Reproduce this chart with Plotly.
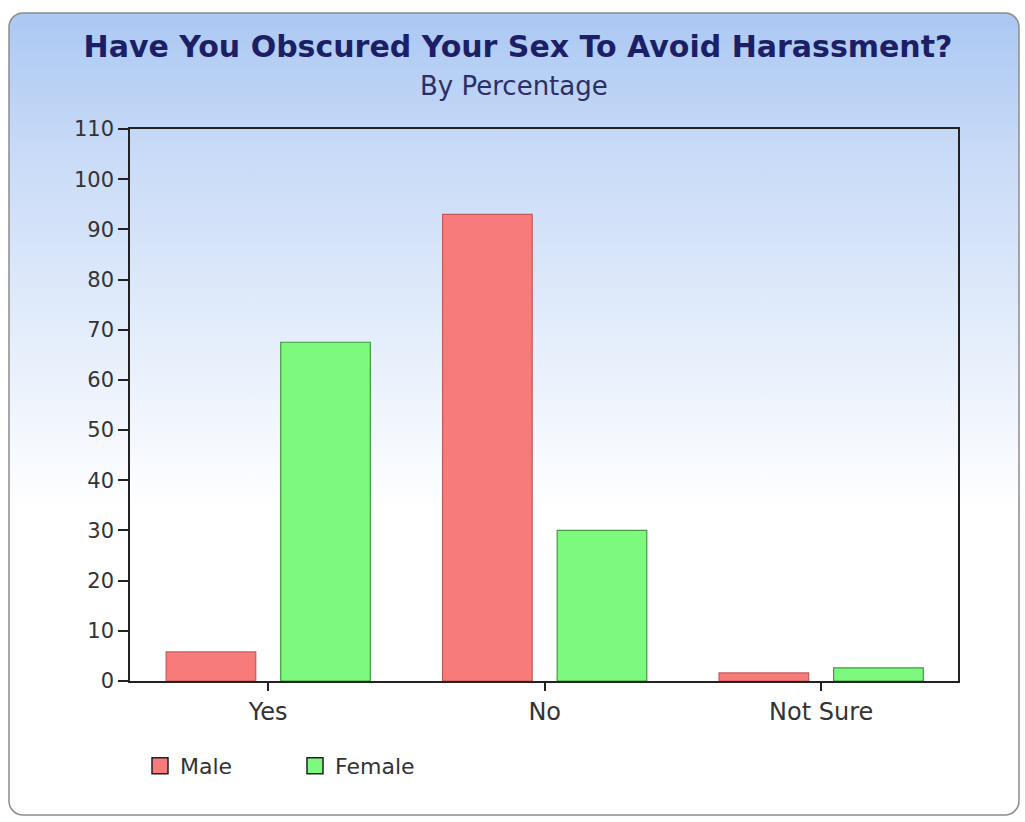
import plotly.graph_objects as go
import urllib.parse

categories = ["Yes", "No", "Not Sure"]
male = [5.8, 93.0, 1.6]
female = [67.5, 30.0, 2.6]
y_ticks = list(range(0, 111, 10))

W, H = 1025, 822
L, R, T, B = 130, 67, 129, 141
pw, ph = W - L - R, H - T - B
FONT = "DejaVu Sans, Verdana, sans-serif"

def px_to_paper_x(x):
    return (x - L) / pw

def px_to_paper_y(y):
    return 1 + (T - y) / ph

# background card with gradient
cx0, cy0, cx1, cy1 = 8, 12, 1020, 816
cw, chh = cx1 - cx0, cy1 - cy0
svg = f'''<svg xmlns="http://www.w3.org/2000/svg" width="{cw}" height="{chh}" viewBox="0 0 {cw} {chh}">
<defs><linearGradient id="g" x1="0" y1="0" x2="0" y2="1">
<stop offset="0" stop-color="#abc8f3"/>
<stop offset="0.18" stop-color="#c9dbf7"/>
<stop offset="0.45" stop-color="#eaf1fc"/>
<stop offset="0.62" stop-color="#ffffff"/>
<stop offset="1" stop-color="#ffffff"/>
</linearGradient></defs>
<rect x="1" y="1" width="{cw-2}" height="{chh-2}" rx="14" ry="14" fill="url(#g)" stroke="#8c8c8c" stroke-width="1.5"/>
</svg>'''
src = "data:image/svg+xml;charset=utf-8," + urllib.parse.quote(svg)

male_color = "#f77b7b"
female_color = "#7dfa7d"

fig = go.Figure()
fig.add_trace(go.Bar(
    x=categories, y=male, name="Male", showlegend=False,
    marker=dict(color=male_color, line=dict(color="#c65a5a", width=1.2)),
))
fig.add_trace(go.Bar(
    x=categories, y=female, name="Female", showlegend=False,
    marker=dict(color=female_color, line=dict(color="#3f9a3f", width=1.2)),
))
# legend entries (square swatches with dark outline)
for nm, col in [("Male", male_color), ("Female", female_color)]:
    fig.add_trace(go.Scatter(
        x=[None], y=[None], mode="markers", name=nm,
        marker=dict(symbol="square", size=18, color=col,
                    line=dict(color="#222222", width=1.5)),
    ))

fig.update_layout(
    width=W, height=H,
    margin=dict(l=L, r=R, t=T, b=B),
    paper_bgcolor="white",
    plot_bgcolor="rgba(0,0,0,0)",
    barmode="group",
    bargap=0.171,
    bargroupgap=0.218,
    font=dict(family=FONT, color="#333333"),
    title=dict(
        text="<b>Have You Obscured Your Sex To Avoid Harassment?</b>",
        x=518 / W, xref="container", xanchor="center",
        y=1 - 46 / H, yref="container", yanchor="middle",
        font=dict(size=30, color="#1c1f66", family=FONT),
    ),
    annotations=[dict(
        text="By Percentage", showarrow=False,
        xref="paper", yref="paper",
        x=px_to_paper_x(514), y=px_to_paper_y(86),
        xanchor="center", yanchor="middle",
        font=dict(size=26, color="#2b2f66", family=FONT),
    )],
    images=[dict(
        source=src, xref="paper", yref="paper",
        x=px_to_paper_x(cx0), y=px_to_paper_y(cy0),
        sizex=cw / pw, sizey=chh / ph,
        xanchor="left", yanchor="top",
        sizing="stretch", layer="below",
    )],
    legend=dict(
        orientation="h",
        x=px_to_paper_x(140), y=px_to_paper_y(766),
        xanchor="left", yanchor="middle",
        bgcolor="rgba(0,0,0,0)",
        font=dict(size=22, color="#333333", family=FONT),
        entrywidth=110, entrywidthmode="pixels",
        traceorder="normal",
    ),
    showlegend=True,
)

fig.update_xaxes(
    range=[-0.5, 2.495],
    showline=True, linecolor="#222222", linewidth=1.5, mirror=True,
    ticks="outside", ticklen=8, tickcolor="#222222", tickwidth=1.5,
    tickfont=dict(size=24, color="#333333", family=FONT),
    showgrid=False,
)
fig.update_yaxes(
    range=[0, 110],
    tickvals=y_ticks,
    showline=True, linecolor="#222222", linewidth=1.5, mirror=True,
    ticks="outside", ticklen=10, tickcolor="#222222", tickwidth=1.5,
    tickfont=dict(size=21, color="#333333", family=FONT),
    showgrid=False, zeroline=False,
)

fig.write_html("out.html")
